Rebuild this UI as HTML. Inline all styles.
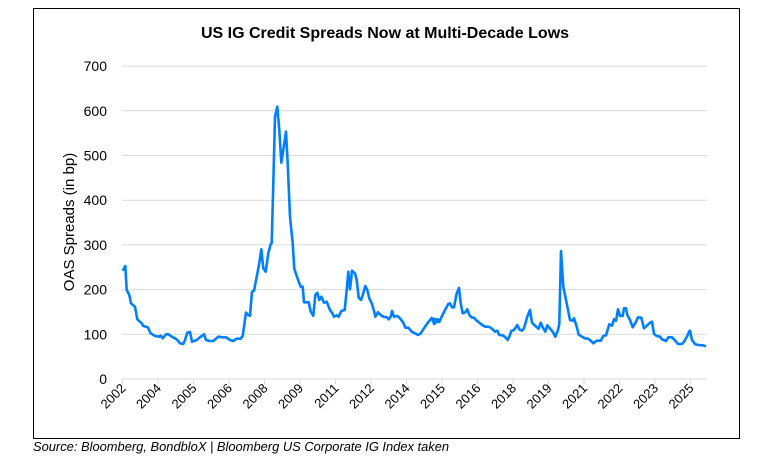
<!DOCTYPE html>
<html><head><meta charset="utf-8"><style>
body{margin:0;background:#fff;}
svg{display:block;font-family:"Liberation Sans",sans-serif;}
</style></head><body>
<svg id="s" width="770" height="457" xmlns="http://www.w3.org/2000/svg">
<rect x="33.5" y="8.5" width="706" height="430" fill="#fff" stroke="#000" stroke-width="1"/>
<text x="385" y="38" text-anchor="middle" font-size="16" font-weight="bold">US IG Credit Spreads Now at Multi-Decade Lows</text>
<g id="grid" stroke="#d9d9d9" stroke-width="1"></g>
<g id="yl" font-size="14" text-anchor="end" fill="#000"></g>
<text transform="translate(74,222) rotate(-90)" text-anchor="middle" font-size="15">OAS Spreads (in bp)</text>
<g id="xl" font-size="13" text-anchor="end"></g>
<polyline id="line" fill="none" stroke="#0080ff" stroke-width="2.6" stroke-linejoin="round"/>
<text x="33" y="451" font-size="12.9" font-style="italic">Source: Bloomberg, BondbloX | Bloomberg US Corporate IG Index taken</text>
</svg>
<script>
var ns="http://www.w3.org/2000/svg";
function el(t,a,p,txt){var e=document.createElementNS(ns,t);for(var k in a)e.setAttribute(k,a[k]);if(txt)e.textContent=txt;p.appendChild(e);return e;}
var g=document.getElementById('grid'),yl=document.getElementById('yl'),xl=document.getElementById('xl');
for(var i=0;i<=7;i++){var y=379-i*44.7;el('line',{x1:122,x2:707,y1:y,y2:y},g);el('text',{x:107,y:y+5},yl,String(i*100));}
var yrs=["2002","2004","2005","2006","2008","2009","2011","2012","2014","2015","2016","2018","2019","2021","2022","2023","2025"];
for(var j=0;j<yrs.length;j++){var x=122.5+j*35.5;el('line',{x1:x,x2:x,y1:379,y2:384},g);el('text',{x:x+4,y:389,transform:'rotate(-45 '+(x+4)+' 389)'},xl,yrs[j]);}
var a=[68,662,76,648,80,720,88,735,93,760,105,770,112,808,125,820,130,828,143,832,152,850,165,858,178,860,182,857,188,865,198,853,205,853,215,860,225,865,232,870,240,880,250,882,255,870,262,848,270,846,276,875,290,870,300,862,312,853,318,870,328,873,340,873,355,860,368,862,378,862,390,870,400,873,410,866,422,866,428,858,438,788,445,795,450,797,456,725,462,722,470,680,478,640,484,598,490,655,497,665,505,610,512,582,515,580,520,400,525,200,532,170,538,240,544,338,550,300,558,245,563,340,570,500,578,580,583,656,590,678,598,700,602,710,608,710,612,757,626,757,632,785,640,797,646,735,652,728,658,750,664,740,672,758,680,755,690,780,697,790,702,800,710,796,716,800,724,783,734,780,740,720,745,665,750,718,756,662,765,670,770,690,776,743,783,750,790,730,796,708,802,720,808,745,815,760,822,782,826,800,834,787,842,795,850,800,860,802,866,808,872,800,876,783,882,800,892,798,900,805,910,818,916,833,925,833,935,845,945,850,955,855,962,850,972,835,982,820,995,804,1002,820,1010,812,1020,810];
var b=[8,806,12,822,20,815,28,816,35,800,45,780,55,762,60,760,66,772,72,772,80,730,87,714,92,760,98,790,106,787,112,778,118,795,126,803,132,803,140,812,148,818,158,826,166,830,176,830,186,836,195,845,202,842,208,855,218,856,226,862,233,870,240,855,244,843,252,840,262,825,268,838,276,842,282,835,292,800,300,780,306,818,316,828,326,836,332,818,338,832,346,845,352,826,362,838,370,848,376,860,384,840,388,822,393,603,400,710,408,750,416,790,420,810,428,812,432,805,440,830,446,854,456,860,464,865,474,866,482,872,490,880,500,872,512,872,520,858,528,856,538,823,546,827,552,808,558,812,564,778,570,798,578,798,582,775,588,775,592,795,600,810,608,832,618,815,624,802,634,803,642,835,652,826,660,818,666,815,672,852,680,858,690,860,696,868,708,873,715,862,726,862,736,872,744,882,756,882,762,875,772,858,777,845,780,842,786,870,796,883,806,885,818,886,828,889];
var pts=[];
for(var i=0;i<a.length;i+=2)pts.push((100+a[i]/3).toFixed(1)+','+(50+a[i+1]/3).toFixed(1));
for(var i=0;i<b.length;i+=2)pts.push((430+b[i]/3).toFixed(1)+','+(50+b[i+1]/3).toFixed(1));
document.getElementById('line').setAttribute('points',pts.join(' '));
</script>
</body></html>
